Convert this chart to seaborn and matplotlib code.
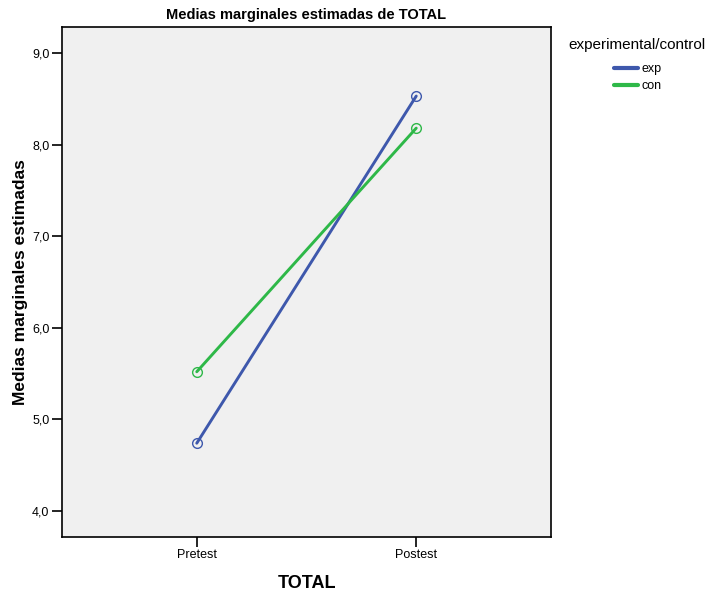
import pandas as pd
import numpy as np
import matplotlib
matplotlib.use("Agg")
import matplotlib.pyplot as plt
import seaborn as sns
from matplotlib.ticker import FuncFormatter

# Estimated marginal means
momentos = ["Pretest", "Postest"]
grupos = ["exp", "con"]
exp_vals = [4.74, 8.53]
con_vals = [5.52, 8.18]

df = pd.DataFrame({
    "pos": [0, 1, 0, 1],
    "TOTAL": momentos * 2,
    "grupo": ["exp", "exp", "con", "con"],
    "media": exp_vals + con_vals,
})

sns.set_style("white")
plt.rcParams["font.family"] = ["Liberation Sans", "DejaVu Sans"]
plt.rcParams["text.color"] = "black"
plt.rcParams["axes.labelcolor"] = "black"
plt.rcParams["xtick.color"] = "black"
plt.rcParams["ytick.color"] = "black"

colores = {"exp": "#3E58AC", "con": "#2EB848"}

fig = plt.figure(figsize=(7.09, 5.94), dpi=100)
ax = fig.add_axes([62/709, 57/594, 489/709, 510/594])
ax.set_facecolor("#F0F0F0")

sns.lineplot(data=df, x="pos", y="media", hue="grupo", hue_order=grupos,
             palette=colores, linewidth=2.1, marker="o", markersize=7,
             markerfacecolor="none", markeredgewidth=1.0, ax=ax)
for line in ax.lines:
    line.set_markeredgecolor(line.get_color())

ax.set_xlim(-0.614, 1.614)
ax.set_ylim(3.716, 9.284)
ax.set_xticks([0, 1])
ax.set_xticklabels(momentos)
ax.set_yticks([4, 5, 6, 7, 8, 9])
ax.yaxis.set_major_formatter(FuncFormatter(lambda v, p: f"{v:.1f}".replace(".", ",")))
ax.tick_params(axis="both", which="major", direction="out", length=7, width=1.2,
               color="black", labelcolor="black", labelsize=9,
               left=True, bottom=True, pad=2)

for s in ax.spines.values():
    s.set_color("black")
    s.set_linewidth(1.2)

ax.set_xlabel("TOTAL", fontsize=13, fontweight="bold", labelpad=10)
ax.set_ylabel("Medias marginales estimadas", fontsize=12.5, fontweight="bold", labelpad=3)
ax.set_title("Medias marginales estimadas de TOTAL", fontsize=10.5, fontweight="bold", pad=6)

# legend: title as separate text, entries below
fig.text(568/709, 1 - 45/594, "experimental/control", fontsize=11, va="center", ha="left")
leg = ax.legend(loc="center left", bbox_to_anchor=(614/709, 1 - 77.5/594),
                bbox_transform=fig.transFigure, frameon=False, fontsize=9,
                handlelength=1.9, handletextpad=0.3, labelspacing=0.4,
                borderpad=0, borderaxespad=0)
for h in leg.get_lines():
    h.set_marker("")
    h.set_linewidth(3)

fig.savefig("out.png", dpi=100)
